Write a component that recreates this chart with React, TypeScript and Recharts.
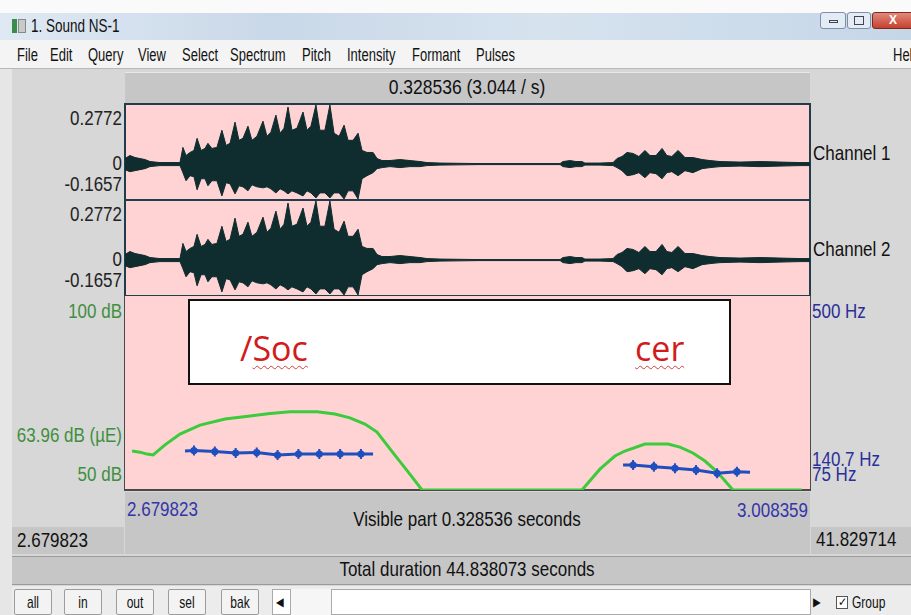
import React from "react";
import { ComposedChart, Area, Line, XAxis, YAxis } from "recharts";

const T_START = 2.679823;
const T_END = 3.008359;

// waveform envelope (seconds, amplitude)
const waveTimes = [
  2.6798, 2.6822, 2.6846, 2.687, 2.6894, 2.6918, 2.6966, 2.7014, 2.7062, 2.7076,
  2.7091, 2.711, 2.7129, 2.7144, 2.7163, 2.7182, 2.7196, 2.7215, 2.7239, 2.7263,
  2.7283, 2.7302, 2.7326, 2.7345, 2.7364, 2.7388, 2.7407, 2.7431, 2.746, 2.7479,
  2.7498, 2.7522, 2.7542, 2.7561, 2.758, 2.7599, 2.7623, 2.7652, 2.7671, 2.769,
  2.7714, 2.7733, 2.7757, 2.7781, 2.7801, 2.7825, 2.7849, 2.7868, 2.7892, 2.7916,
  2.7935, 2.7959, 2.7988, 2.8007, 2.8031, 2.8069, 2.8117, 2.8165, 2.8213, 2.8247,
  2.8309, 2.8501, 2.8693, 2.8885, 2.8899, 2.8933, 2.8961, 2.899, 2.9004, 2.9076,
  2.9139, 2.9158, 2.9182, 2.9206, 2.9235, 2.9263, 2.9292, 2.9316, 2.9345, 2.9374,
  2.9397, 2.9421, 2.9451, 2.9484, 2.9522, 2.9566, 2.9604, 2.9652, 2.9748, 2.9844,
  2.994, 3.0036, 3.0084,
];
const waveMax = [
  0.0256, 0.0396, 0.0303, 0.0256, 0.021, 0.0117, 0.007, 0.007, 0.007, 0.0769,
  0.0396, 0.0536, 0.0629, 0.1189, 0.0629, 0.0723, 0.0956, 0.0723, 0.0769, 0.1562,
  0.0862, 0.0956, 0.1935, 0.1096, 0.1189, 0.1748, 0.1096, 0.1282, 0.1981, 0.1282,
  0.1469, 0.2261, 0.1422, 0.1655, 0.2634, 0.1562, 0.1655, 0.2401, 0.1562, 0.1748,
  0.2727, 0.1562, 0.1562, 0.2727, 0.1422, 0.1282, 0.1795, 0.1096, 0.1096, 0.1422,
  0.0629, 0.0536, 0.0536, 0.0256, 0.0163, 0.0163, 0.021, 0.0163, 0.0117, 0.007,
  0.0047, 0.0023, 0.0023, 0.0023, 0.0117, 0.0163, 0.0117, 0.0117, 0.0047, 0.0047,
  0.007, 0.0256, 0.035, 0.0536, 0.049, 0.035, 0.0629, 0.0396, 0.0396, 0.0723,
  0.0396, 0.035, 0.0629, 0.0303, 0.0303, 0.021, 0.0163, 0.0117, 0.0093, 0.0117,
  0.0093, 0.007, 0.007,
];
const waveMin = [
  -0.0256, -0.035, -0.0303, -0.0256, -0.021, -0.0117, -0.007, -0.007, -0.007, -0.0396,
  -0.0769, -0.0536, -0.0583, -0.1189, -0.0676, -0.0676, -0.1002, -0.0769, -0.0769, -0.1469,
  -0.0862, -0.0909, -0.1375, -0.1002, -0.1049, -0.1235, -0.0956, -0.1049, -0.1096, -0.1049,
  -0.1142, -0.1329, -0.1142, -0.1235, -0.1375, -0.1235, -0.1329, -0.1469, -0.1235, -0.1329,
  -0.1562, -0.1329, -0.1329, -0.1562, -0.1329, -0.1329, -0.1608, -0.1235, -0.1235, -0.1608,
  -0.0676, -0.0536, -0.0396, -0.021, -0.0163, -0.0117, -0.0163, -0.0117, -0.0117, -0.007,
  -0.0047, -0.0023, -0.0023, -0.0023, -0.0117, -0.0163, -0.0117, -0.0117, -0.0047, -0.0047,
  -0.007, -0.0163, -0.0303, -0.0536, -0.049, -0.0396, -0.0629, -0.0396, -0.0443, -0.0676,
  -0.0396, -0.035, -0.0536, -0.0303, -0.0396, -0.021, -0.0163, -0.0117, -0.0093, -0.0117,
  -0.0093, -0.007, -0.007,
];
const ampTicks = [0.2772, 0, -0.1657];

// intensity (dB), clipped at the 50 dB floor as drawn
const intensityTimes = [
  2.6832, 2.687, 2.6904, 2.6933, 2.699, 2.7062, 2.7158, 2.7278, 2.7398, 2.7494,
  2.759, 2.7719, 2.7805, 2.7877, 2.7949, 2.8007, 2.8084, 2.8156, 2.8223, 2.8597,
  2.899, 2.9076, 2.9148, 2.9196, 2.9292, 2.9403, 2.946, 2.9522, 2.958, 2.9638,
  2.9714, 3.0045,
];
const intensityDb = [
  60.1, 59.8, 59.3, 59.1, 61.7, 64.5, 66.8, 68.4, 69.2, 69.8,
  70.3, 70.3, 69.7, 68.7, 67.1, 65.0, 59.6, 54.7, 50, 50,
  50, 55.4, 58.8, 60.1, 61.9, 61.9, 61.1, 59.6, 57.5, 54.7,
  50, 50,
];
const dbTicks = [100, 63.96, 50];

// pitch (Hz), two voiced stretches
const pitch1Times = [2.7086, 2.7129, 2.7229, 2.7329, 2.743, 2.753, 2.763, 2.773, 2.783, 2.793, 2.7988];
const pitch1Hz = [160.9, 162.0, 159.8, 156.5, 157.6, 152.1, 154.3, 154.3, 154.3, 154.3, 154.3];
const pitch2Times = [2.9187, 2.9235, 2.9335, 2.9436, 2.9537, 2.9638, 2.9733, 2.9796];
const pitch2Hz = [130.1, 130.1, 126.3, 122.8, 119.0, 111.8, 115.3, 114.0];
const hzTicks = [500, 140.7, 75];

const menuItems = ["File", "Edit", "Query", "View", "Select", "Spectrum", "Pitch", "Intensity", "Formant", "Pulses"];
const menuX = [17, 50, 88, 138, 182, 230, 302, 347, 412, 476];
const buttons = ["all", "in", "out", "sel", "bak"];
const buttonX = [14, 64, 116, 168, 221];

const wave = waveTimes.map((t, i) => ({ t, range: [waveMin[i], waveMax[i]] }));
const intensity = intensityTimes.map((t, i) => ({ t, db: intensityDb[i] }));
const pitch1 = pitch1Times.map((t, i) => ({ t, hz: pitch1Hz[i], mark: i > 0 && i < pitch1Times.length - 1 }));
const pitch2 = pitch2Times.map((t, i) => ({ t, hz: pitch2Hz[i], mark: i > 0 && i < pitch2Times.length - 1 }));

const FONT = '"Liberation Sans", Arial, sans-serif';
const PINK = "#ffd3d3";
const WAVE = "#0f2c2e";
const GREEN = "#3ccb3c";
const BLUE = "#1f4fbf";
const BG = "#d7d7d7";
const BAR = "#c6c6c6";

function Txt({ x, y, size = 17, color = "#111", anchor = "start", sy = 1.18, children, style }: any) {
  const tx = anchor === "middle" ? "-50%" : anchor === "end" ? "-100%" : "0";
  return (
    <div
      style={{
        position: "absolute",
        left: x,
        top: y,
        transform: `translate(${tx}, -50%) scaleY(${sy})`,
        fontFamily: FONT,
        fontSize: size,
        color,
        whiteSpace: "nowrap",
        lineHeight: 1,
        ...style,
      }}
    >
      {children}
    </div>
  );
}

// Praat puts the top value under the top edge and the bottom value above the bottom edge
const makeTick = (x: number, anchor: string, color: string, fmt: (v: number) => string, top: number, bottom: number) =>
  (props: any) => {
    const { y, payload, index } = props;
    const v = payload.value;
    const dy = v === top ? 21 : v === bottom ? -9 : 6;
    return (
      <text
        key={`t${index}`}
        transform={`translate(${x},${y + dy}) scale(1,1.18)`}
        textAnchor={anchor}
        fontFamily={FONT}
        fontSize={17}
        fill={color}
      >
        {fmt(v)}
      </text>
    );
  };

const ampTick = makeTick(122, "end", "#222", (v) => String(v), 0.2772, -0.1657);
const dbTick = makeTick(122, "end", "#3f8f3f", (v) => (v === 63.96 ? "63.96 dB (\u00b5E)" : `${v} dB`), 100, 50);
const hzTick = makeTick(812, "start", "#2b2f9a", (v) => `${v} Hz`, 500, 75);

const PitchDot = (props: any) => {
  const { cx, cy, payload, index } = props;
  if (!payload || !payload.mark || cx == null) return <g key={`d${index}`} />;
  return (
    <g key={`d${index}`}>
      <circle cx={cx} cy={cy} r={3.6} fill={BLUE} />
      <rect x={cx - 1} y={cy - 5} width={2} height={10} fill={BLUE} />
    </g>
  );
};

function ChannelPanel({ top, label }: { top: number; label: string }) {
  return (
    <>
      <div
        style={{
          position: "absolute",
          left: 124,
          top,
          width: 687,
          height: 98,
          background: PINK,
          border: "2px solid #1f3d4b",
          boxSizing: "border-box",
        }}
      />
      <div style={{ position: "absolute", left: 0, top: top + 1 }}>
        <ComposedChart width={911} height={96} data={wave} margin={{ top: 0, right: 101, bottom: 0, left: 0 }}>
          <XAxis type="number" dataKey="t" domain={[T_START, T_END]} hide allowDataOverflow />
          <YAxis
            type="number"
            domain={[-0.1657, 0.2772]}
            ticks={ampTicks}
            interval={0}
            width={125}
            axisLine={false}
            tickLine={false}
            tick={ampTick}
            allowDataOverflow
          />
          <Area
            type="linear"
            dataKey="range"
            stroke={WAVE}
            strokeWidth={1}
            fill={WAVE}
            fillOpacity={1}
            dot={false}
            activeDot={false}
            isAnimationActive={false}
          />
        </ComposedChart>
      </div>
      <Txt x={813} y={top + 51} size={17}>
        {label}
      </Txt>
    </>
  );
}

export default function App() {
  return (
    <div
      style={{
        position: "absolute",
        left: 0,
        top: 0,
        width: 911,
        height: 615,
        overflow: "hidden",
        background: "#fafafa",
        fontFamily: FONT,
      }}
    >
      {/* title bar */}
      <div
        style={{
          position: "absolute",
          left: 0,
          top: 13,
          width: 911,
          height: 27,
          background: "linear-gradient(90deg, #dfe9f3 0%, #c9d8e8 30%, #d6e3ef 60%, #c5d6e7 100%)",
          borderBottom: "1px solid #9fb3c8",
        }}
      />
      <div style={{ position: "absolute", left: 12, top: 19, width: 5, height: 14, background: "#3b8c4a" }} />
      <div style={{ position: "absolute", left: 18, top: 19, width: 8, height: 14, background: "#c9c9c9", border: "1px solid #888", boxSizing: "border-box" }} />
      <Txt x={31} y={26} size={13.5} sy={1.3}>
        1. Sound NS-1
      </Txt>
      <div style={{ position: "absolute", left: 820, top: 12, width: 26, height: 17, background: "#e3ebf4", border: "1px solid #7f8fa4", borderRadius: 3, boxSizing: "border-box" }} />
      <div style={{ position: "absolute", left: 829, top: 20, width: 9, height: 3, border: "1px solid #445", boxSizing: "border-box" }} />
      <div style={{ position: "absolute", left: 847, top: 12, width: 24, height: 17, background: "#e3ebf4", border: "1px solid #7f8fa4", borderRadius: 3, boxSizing: "border-box" }} />
      <div style={{ position: "absolute", left: 854, top: 16, width: 10, height: 9, border: "1px solid #445", boxSizing: "border-box" }} />
      <div style={{ position: "absolute", left: 872, top: 12, width: 42, height: 17, background: "linear-gradient(#e08a7c, #c7402e)", border: "1px solid #7a2a20", borderRadius: 3, boxSizing: "border-box" }} />
      <Txt x={893} y={20} size={12} color="#fff" anchor="middle" sy={1.1} style={{ fontWeight: 700 }}>
        X
      </Txt>

      {/* menu bar */}
      <div style={{ position: "absolute", left: 0, top: 40, width: 911, height: 28, background: "#f4f4f4", borderBottom: "1px solid #b8b8b8" }} />
      {menuItems.map((m, i) => (
        <Txt key={m} x={menuX[i]} y={55} size={13} sy={1.35}>
          {m}
        </Txt>
      ))}
      <Txt x={893} y={55} size={13} sy={1.35}>
        Help
      </Txt>

      {/* editor body */}
      <div style={{ position: "absolute", left: 0, top: 69, width: 911, height: 546, background: BG }} />
      <div style={{ position: "absolute", left: 0, top: 69, width: 12, height: 546, background: "#e6e6e6" }} />

      <div style={{ position: "absolute", left: 125, top: 72, width: 685, height: 31, background: BAR, borderTop: "1px solid #e8e8e8", boxSizing: "border-box" }} />
      <Txt x={467} y={88} size={17.5} anchor="middle">
        0.328536 (3.044 / s)
      </Txt>

      <ChannelPanel top={103} label="Channel 1" />
      <ChannelPanel top={199} label="Channel 2" />

      {/* intensity + pitch panel */}
      <div
        style={{
          position: "absolute",
          left: 124,
          top: 296,
          width: 687,
          height: 195,
          background: PINK,
          borderLeft: "1.5px solid #4a4a4a",
          borderRight: "1.5px solid #4a4a4a",
          borderBottom: "2px solid #4a4a4a",
          boxSizing: "border-box",
        }}
      />
      <div style={{ position: "absolute", left: 0, top: 297 }}>
        <ComposedChart width={911} height={193} margin={{ top: 0, right: 0, bottom: 0, left: 0 }}>
          <XAxis type="number" dataKey="t" domain={[T_START, T_END]} hide allowDataOverflow />
          <YAxis
            yAxisId="db"
            orientation="left"
            type="number"
            domain={[50, 100]}
            ticks={dbTicks}
            interval={0}
            width={125}
            axisLine={false}
            tickLine={false}
            tick={dbTick}
            allowDataOverflow
          />
          <YAxis
            yAxisId="hz"
            orientation="right"
            type="number"
            domain={[75, 500]}
            ticks={hzTicks}
            interval={0}
            width={101}
            axisLine={false}
            tickLine={false}
            tick={hzTick}
            allowDataOverflow
          />
          <Line
            yAxisId="db"
            data={intensity}
            dataKey="db"
            type="linear"
            stroke={GREEN}
            strokeWidth={3}
            dot={false}
            activeDot={false}
            isAnimationActive={false}
          />
          <Line
            yAxisId="hz"
            data={pitch1}
            dataKey="hz"
            type="linear"
            stroke={BLUE}
            strokeWidth={3}
            dot={PitchDot}
            activeDot={false}
            isAnimationActive={false}
          />
          <Line
            yAxisId="hz"
            data={pitch2}
            dataKey="hz"
            type="linear"
            stroke={BLUE}
            strokeWidth={3}
            dot={PitchDot}
            activeDot={false}
            isAnimationActive={false}
          />
        </ComposedChart>
      </div>

      {/* pasted text box */}
      <div
        style={{
          position: "absolute",
          left: 188,
          top: 299,
          width: 543,
          height: 86,
          background: "#fff",
          border: "2px solid #111",
          boxSizing: "border-box",
        }}
      />
      <div
        style={{
          position: "absolute",
          left: 240,
          top: 328,
          fontFamily: '"Open Sans", sans-serif',
          fontSize: 34,
          lineHeight: "40px",
          color: "#d01c1c",
        }}
      >
        /
        <span style={{ textDecoration: "underline wavy #d04040", textDecorationThickness: 1, textUnderlineOffset: 4 }}>Soc</span>
      </div>
      <div
        style={{
          position: "absolute",
          left: 635,
          top: 328,
          fontFamily: '"Open Sans", sans-serif',
          fontSize: 34,
          lineHeight: "40px",
          color: "#d01c1c",
        }}
      >
        <span style={{ textDecoration: "underline wavy #d04040", textDecorationThickness: 1, textUnderlineOffset: 4 }}>cer</span>
      </div>

      {/* time bars */}
      <div style={{ position: "absolute", left: 125, top: 492, width: 685, height: 62, background: BAR }} />
      <Txt x={127} y={510} color="#3535a8">
        2.679823
      </Txt>
      <Txt x={808} y={511} color="#3535a8" anchor="end">
        3.008359
      </Txt>
      <Txt x={467} y={520} anchor="middle">
        Visible part 0.328536 seconds
      </Txt>
      <div style={{ position: "absolute", left: 12, top: 527, width: 112, height: 27, background: BAR }} />
      <Txt x={17} y={541}>
        2.679823
      </Txt>
      <div style={{ position: "absolute", left: 811, top: 527, width: 100, height: 27, background: BAR }} />
      <Txt x={816} y={540}>
        41.829714
      </Txt>
      <div
        style={{
          position: "absolute",
          left: 12,
          top: 556,
          width: 899,
          height: 27,
          background: BAR,
          borderTop: "1px solid #9a9a9a",
          borderBottom: "1px solid #9a9a9a",
        }}
      />
      <Txt x={467} y={570} anchor="middle">
        Total duration 44.838073 seconds
      </Txt>

      {/* button row */}
      <div style={{ position: "absolute", left: 12, top: 586, width: 899, height: 29, background: "#ececec" }} />
      {buttons.map((b, i) => (
        <React.Fragment key={b}>
          <div
            style={{
              position: "absolute",
              left: buttonX[i],
              top: 589,
              width: 38,
              height: 26,
              background: "#f3f3f3",
              border: "1px solid #9c9c9c",
              borderRadius: 2,
              boxSizing: "border-box",
            }}
          />
          <Txt x={buttonX[i] + 19} y={603} size={12} sy={1.35} anchor="middle">
            {b}
          </Txt>
        </React.Fragment>
      ))}
      <div style={{ position: "absolute", left: 272, top: 589, width: 539, height: 26, background: "#fff", border: "1px solid #aaa", boxSizing: "border-box" }} />
      <div style={{ position: "absolute", left: 290, top: 589, width: 42, height: 26, background: "#f6f6f6", borderLeft: "1px solid #aaa", borderRight: "1px solid #aaa", boxSizing: "border-box" }} />
      <Txt x={280} y={602} size={10} sy={1.2} anchor="middle">
        {"\u25c0"}
      </Txt>
      <Txt x={817} y={602} size={10} sy={1.2} anchor="middle">
        {"\u25b6"}
      </Txt>
      <div style={{ position: "absolute", left: 836, top: 596, width: 12, height: 13, background: "#fff", border: "1px solid #555", boxSizing: "border-box" }} />
      <Txt x={842} y={602} size={11} anchor="middle" sy={1.1}>
        {"\u2713"}
      </Txt>
      <Txt x={852} y={603} size={12} sy={1.35}>
        Group
      </Txt>
    </div>
  );
}
